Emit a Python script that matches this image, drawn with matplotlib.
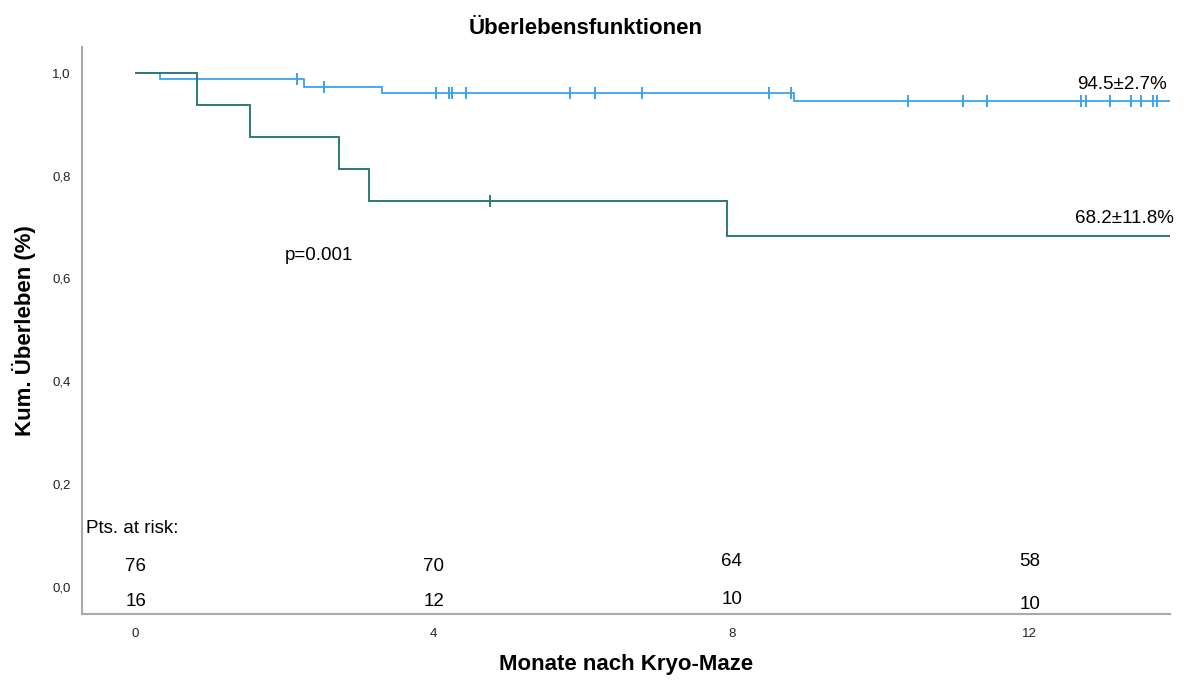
import numpy as np
import matplotlib
matplotlib.use("Agg")
import matplotlib.pyplot as plt

plt.rcParams['font.family'] = ['Liberation Sans', 'DejaVu Sans']

# Kaplan-Meier step data (months, cumulative survival)
blue_times = [0.0, 0.33, 2.26, 3.30, 8.83]
blue_surv = [1.0, 0.987, 0.973, 0.960, 0.945]
blue_censor = [2.16, 2.53, 4.03, 4.20, 4.25, 4.43, 5.83, 6.16, 6.80, 8.50, 8.79,
               10.36, 11.10, 11.43, 12.69, 12.76, 13.07, 13.36, 13.49, 13.65, 13.70]

green_times = [0.0, 0.82, 1.53, 2.73, 3.13, 7.93]
green_surv = [1.0, 0.9375, 0.875, 0.8125, 0.75, 0.682]
green_censor = [4.76]

follow_up_end = 13.88

risk_times = [0, 4, 8, 12]
risk_blue = [76, 70, 64, 58]
risk_green = [16, 12, 10, 10]

blue_label = "94.5\u00b12.7%"
green_label = "68.2\u00b111.8%"
p_label = "p=0.001"

BLUE = "#3DA2EE"
GREEN = "#2C7A74"
TXT = 13.5
BOLD = 16


def step_line(ax, times, surv, end, color, lw):
    x = list(times) + [end]
    y = list(surv) + [surv[-1]]
    ax.step(x, y, where='post', color=color, lw=lw, solid_joinstyle='miter')


def censor_marks(ax, times, surv, ctimes, color):
    idx = np.searchsorted(times, ctimes, side='right') - 1
    ys = np.asarray(surv)[idx]
    ax.plot(ctimes, ys, linestyle='none', marker='|', markersize=8.5,
            markeredgewidth=1.4, color=color)


fig = plt.figure(figsize=(11.92, 6.8), dpi=100)
ax = fig.add_axes([0.0688, 0.0971, 0.9127, 0.8338])

step_line(ax, blue_times, blue_surv, follow_up_end, BLUE, 1.3)
step_line(ax, green_times, green_surv, follow_up_end, GREEN, 1.4)
censor_marks(ax, blue_times, blue_surv, blue_censor, BLUE)
censor_marks(ax, green_times, green_surv, green_censor, GREEN)

ax.set_xlim(-0.72, follow_up_end)
ax.set_ylim(-0.0525, 1.05)
ax.set_xticks([0, 4, 8, 12])
ax.set_yticks([0.0, 0.2, 0.4, 0.6, 0.8, 1.0])
ax.set_yticklabels([f"{v:.1f}".replace('.', ',') for v in ax.get_yticks()])
ax.tick_params(axis='both', length=0, labelsize=9.5, colors='#222222')
ax.tick_params(axis='x', pad=10)
ax.tick_params(axis='y', pad=8)

for side in ('top', 'right'):
    ax.spines[side].set_visible(False)
for side in ('left', 'bottom'):
    ax.spines[side].set_color('#A8A8A8')
    ax.spines[side].set_linewidth(1.5)

ax.set_xlabel("Monate nach Kryo-Maze", fontsize=BOLD, fontweight='bold', labelpad=10)
ax.set_ylabel("Kum. \u00dcberleben (%)", fontsize=BOLD, fontweight='bold', labelpad=12)
fig.text(586 / 1192, 1 - 28 / 680, "\u00dcberlebensfunktionen", fontsize=BOLD,
         fontweight='bold', ha='center', va='center')

ax.text(12.63, 0.977, blue_label, fontsize=TXT, ha='left', va='center')
ax.text(12.60, 0.717, green_label, fontsize=TXT, ha='left', va='center')
ax.text(2.0, 0.645, p_label, fontsize=TXT, ha='left', va='center')
ax.text(-0.66, 0.113, "Pts. at risk:", fontsize=TXT, ha='left', va='center')

row1_y = [0.039, 0.039, 0.049, 0.049]
row2_y = [-0.029, -0.029, -0.025, -0.034]
for t, n, y in zip(risk_times, risk_blue, row1_y):
    ax.text(t, y, str(n), fontsize=TXT, ha='center', va='center')
for t, n, y in zip(risk_times, risk_green, row2_y):
    ax.text(t, y, str(n), fontsize=TXT, ha='center', va='center')

fig.savefig("out.png", dpi=100)
